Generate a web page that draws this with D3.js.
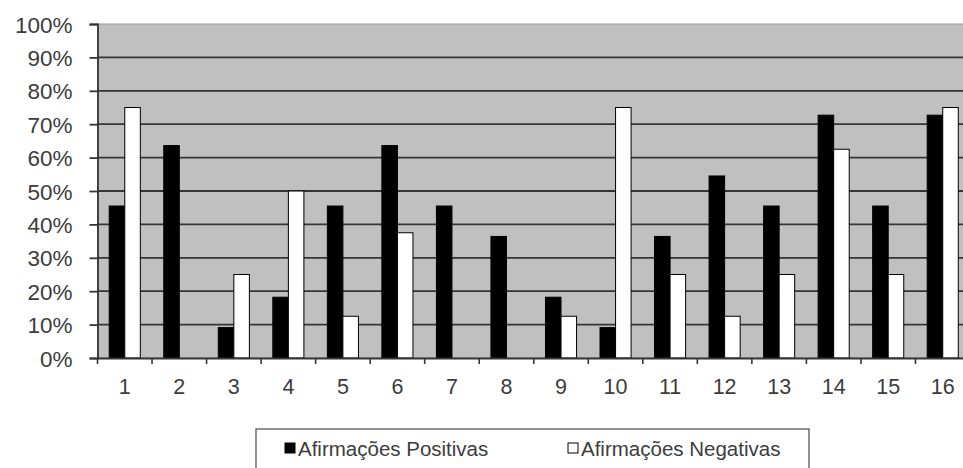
<!DOCTYPE html>
<html><head><meta charset="utf-8">
<script src="https://cdn.jsdelivr.net/npm/d3@7/dist/d3.min.js"></script>
<style>body{margin:0;background:#fff}svg{display:block}text{font-family:"Liberation Sans",Arial,sans-serif;fill:#3c3c3c}</style>
</head><body><svg id="c" width="963" height="468"></svg>
<script>
const categories = ["1","2","3","4","5","6","7","8","9","10","11","12","13","14","15","16"];
const positivas = [45.5,63.6,9.1,18.2,45.5,63.6,45.5,36.4,18.2,9.1,36.4,54.5,45.5,72.7,45.5,72.7];
const negativas = [75,0,25,50,12.5,37.5,0,0,12.5,75,25,12.5,25,62.5,25,75];
const yTicks = [0,10,20,30,40,50,60,70,80,90,100];
const seriesNames = ["Afirmações Positivas","Afirmações Negativas"];

const svg = d3.select("#c");
const L = 97.5, R = 970, T = 24, B = 358;
const x = d3.scaleBand().domain(categories).range([L,R]).paddingInner(0.43).paddingOuter(0.215);
const xs = d3.scaleBand().domain([0,1]).range([0,x.bandwidth()]);
const y = d3.scaleLinear().domain([0,100]).range([B,T]);

svg.append("rect").attr("x",L).attr("y",T).attr("width",R-L).attr("height",B-T).attr("fill","#c0c0c0").attr("stroke","#9a9a9a");

// gridlines
svg.append("g").selectAll("line").data(yTicks.filter(d=>d>0&&d<100)).join("line")
  .attr("x1",L).attr("x2",R).attr("y1",d=>y(d)).attr("y2",d=>y(d))
  .attr("stroke","#353535").attr("stroke-width",1.8);

// bars
const data = categories.map((c,i)=>({c, v:[positivas[i],negativas[i]]}));
const g = svg.append("g");
data.forEach(d=>{
  d.v.forEach((v,j)=>{
    if (v<=0) return;
    g.append("rect").attr("x",x(d.c)+xs(j)).attr("y",y(v)).attr("width",xs.bandwidth()).attr("height",y(0)-y(v))
      .attr("fill",j===0?"#000":"#fff").attr("stroke","#000").attr("stroke-width",1);
  });
});

// y axis
const ya = svg.append("g").attr("transform",`translate(${L},0)`)
  .call(d3.axisLeft(y).tickValues(yTicks).tickFormat(d=>d+"%").tickSize(8).tickPadding(17));
ya.select(".domain").attr("stroke","#353535").attr("stroke-width",1.8);
ya.selectAll(".tick line").attr("stroke","#353535").attr("stroke-width",1.8);
ya.selectAll("text").attr("font-size",22.5).attr("fill","#3c3c3c").attr("dy","0.36em");

// x axis
const xa = svg.append("g").attr("transform",`translate(0,${B})`)
  .call(d3.axisBottom(x).tickSize(0).tickPadding(21));
xa.select(".domain").attr("stroke","#353535").attr("stroke-width",1.8);
xa.selectAll("text").attr("font-size",21.5).attr("fill","#3c3c3c");
const bounds = categories.map((c,i)=> L + i*x.step());
xa.selectAll("line.b").data(bounds).join("line").attr("class","b")
  .attr("x1",d=>d).attr("x2",d=>d).attr("y1",0).attr("y2",6).attr("stroke","#353535").attr("stroke-width",1.6);

// legend
const lg = svg.append("g");
lg.append("rect").attr("x",256).attr("y",429).attr("width",553).attr("height",60).attr("fill","#fff").attr("stroke","#555").attr("stroke-width",1.3);
const lx = [285, 568];
seriesNames.forEach((n,j)=>{
  lg.append("rect").attr("x",lx[j]).attr("y",443).attr("width",10).attr("height",10)
    .attr("fill",j===0?"#000":"#fff").attr("stroke","#000").attr("stroke-width",1);
  lg.append("text").attr("x",lx[j]+13).attr("y",456).attr("font-size",20.5).text(n);
});
</script></body></html>
